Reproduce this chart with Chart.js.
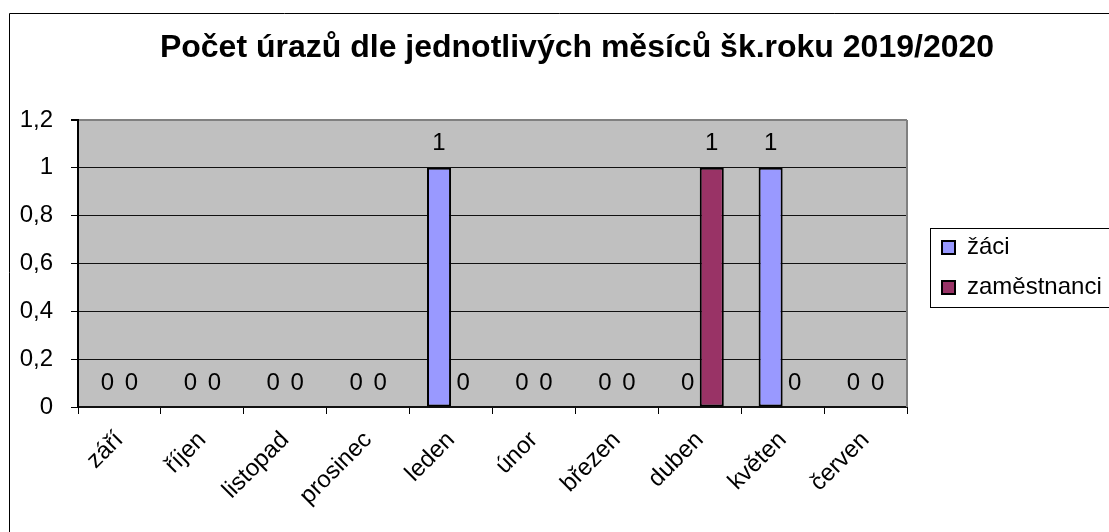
<!DOCTYPE html>
<html>
<head>
<meta charset="utf-8">
<script src="https://cdn.jsdelivr.net/npm/chart.js@4"></script>
<style>
  html, body { margin: 0; padding: 0; background: #fff; }
  #wrap { width: 1109px; height: 532px; position: relative; }
</style>
</head>
<body>
<div id="wrap"><canvas id="chart"></canvas></div>
<script>
// data
const months = ['září', 'říjen', 'listopad', 'prosinec', 'leden', 'únor', 'březen', 'duben', 'květen', 'červen'];
const zaci = [0, 0, 0, 0, 1, 0, 0, 0, 1, 0];
const zamestnanci = [0, 0, 0, 0, 0, 0, 0, 1, 0, 0];
const yTicks = [0, 0.2, 0.4, 0.6, 0.8, 1, 1.2];

const fmt = (v) => String(Number(Number(v).toFixed(1))).replace('.', ',');

Chart.defaults.font.family = '"Liberation Sans", Arial, sans-serif';
Chart.defaults.color = '#000';

// šedé pozadí grafu + rámečky
const excelLook = {
  id: 'excelLook',
  afterLayout(chart) {
    // legenda a nadpis posunuté jako v excelu
    const lg = chart.legend;
    if (lg) {
      const dx = 926 - lg.left;
      lg.left += dx; lg.right += dx;
      lg.top += 4; lg.bottom += 4;
    }
    const tb = chart.titleBlock;
    if (tb) {
      const dx = 577 - (tb.left + tb.right) / 2;
      tb.left += dx; tb.right += dx;
    }
  },
  beforeDraw(chart) {
    const {ctx, chartArea: a} = chart;
    ctx.save();
    ctx.fillStyle = '#fff';
    ctx.fillRect(0, 0, chart.width, chart.height);
    ctx.strokeStyle = '#000';
    ctx.lineWidth = 1;
    ctx.beginPath();
    ctx.moveTo(9.5, chart.height);
    ctx.lineTo(9.5, 13.5);
    ctx.lineTo(chart.width, 13.5);
    ctx.stroke();
    ctx.fillStyle = '#C0C0C0';
    ctx.fillRect(a.left, a.top, a.right - a.left, a.bottom - a.top);
    ctx.restore();
  },
  afterDraw(chart) {
    const {ctx, chartArea: a} = chart;
    ctx.save();
    ctx.strokeStyle = '#808080';
    ctx.lineWidth = 2;
    ctx.beginPath();
    ctx.moveTo(a.right, a.top);
    ctx.lineTo(a.right, a.bottom);
    ctx.stroke();
    // rámeček legendy
    ctx.strokeStyle = '#000';
    ctx.lineWidth = 1;
    ctx.strokeRect(930.5, 228.5, 200, 79);
    ctx.restore();
  }
};

// popisky hodnot nad sloupci
const valueLabels = {
  id: 'valueLabels',
  afterDatasetsDraw(chart) {
    const ctx = chart.ctx;
    ctx.save();
    ctx.font = '24px "Liberation Sans", Arial, sans-serif';
    ctx.fillStyle = '#000';
    ctx.textAlign = 'center';
    ctx.textBaseline = 'middle';
    chart.data.datasets.forEach((ds, i) => {
      chart.getDatasetMeta(i).data.forEach((bar, j) => {
        ctx.fillText(fmt(ds.data[j]), bar.x, bar.y - 24);
      });
    });
    ctx.restore();
  }
};

new Chart(document.getElementById('chart'), {
  type: 'bar',
  data: {
    labels: months,
    datasets: [
      { label: 'žáci', data: zaci, backgroundColor: '#9999FF', borderColor: '#000', borderWidth: 2, borderSkipped: false },
      { label: 'zaměstnanci', data: zamestnanci, backgroundColor: '#993366', borderColor: '#000', borderWidth: 2, borderSkipped: false }
    ]
  },
  options: {
    responsive: true,
    maintainAspectRatio: false,
    animation: false,
    layout: { padding: { left: 0, top: 0, right: 0, bottom: 0 } },
    datasets: { bar: { categoryPercentage: 0.58, barPercentage: 1 } },
    scales: {
      x: {
        grid: { drawOnChartArea: false, tickLength: 7, tickColor: '#000', offset: true },
        border: { color: '#111', width: 2 },
        ticks: { font: { size: 24 }, maxRotation: 45, minRotation: 45, padding: 12, autoSkip: false },
        afterFit: (s) => { s.height = 125; }
      },
      y: {
        min: 0,
        max: 1.2,
        afterBuildTicks: (s) => { s.ticks = yTicks.map(v => ({ value: v })); },
        grid: {
          color: (c) => (c.tick && Math.abs(c.tick.value - 1.2) < 1e-6) ? '#808080' : '#111',
          lineWidth: (c) => (c.tick && Math.abs(c.tick.value - 1.2) < 1e-6) ? 2 : 1,
          tickColor: '#000',
          tickLength: 7
        },
        border: { color: '#000', width: 2 },
        ticks: { font: { size: 24 }, padding: 18, callback: (v) => fmt(v) },
        afterFit: (s) => { s.width = 78; }
      }
    },
    plugins: {
      title: {
        display: true,
        text: 'Počet úrazů dle jednotlivých měsíců šk.roku 2019/2020',
        font: { size: 32, weight: 'bold' },
        color: '#000',
        padding: { top: 29, bottom: 52.6 }
      },
      legend: {
        position: 'right',
        fullSize: false,
        labels: { boxWidth: 13, boxHeight: 13, padding: 16, font: { size: 24 }, color: '#000' }
      },
      tooltip: { enabled: false }
    }
  },
  plugins: [excelLook, valueLabels, {
    id: 'plotRight',
    beforeLayout(chart) {
      // místo vpravo tak, aby graf končil na x = 907
      chart.options.layout.padding.right = chart.$rightPad || 0;
    },
    afterLayout(chart) {
      if (chart.$rightPad === undefined) {
        chart.$rightPad = Math.max(0, chart.chartArea.right - 907);
        chart.update();
      }
    }
  }]
});
</script>
</body>
</html>
